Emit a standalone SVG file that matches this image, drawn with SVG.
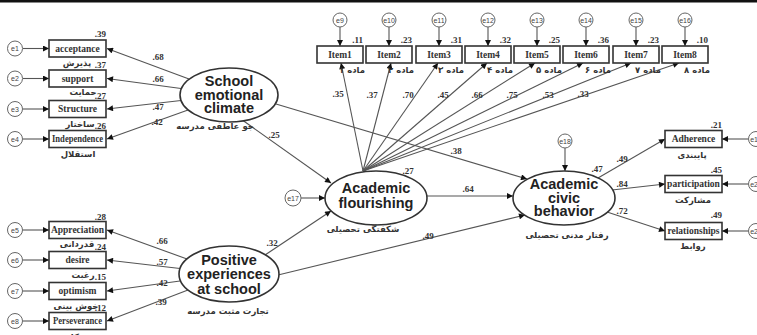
<svg xmlns="http://www.w3.org/2000/svg" width="757" height="335" viewBox="0 0 757 335">
<defs>
<marker id="ah" viewBox="0 0 10 10" refX="10" refY="5" markerWidth="7" markerHeight="6" markerUnits="userSpaceOnUse" orient="auto"><path d="M0,0 L10,5 L0,10 z" fill="#111"/></marker>
<style>
.box{fill:#fff;stroke:#333;stroke-width:1.6}
.lat{fill:#fff;stroke:#333;stroke-width:1.6}
.err{fill:#fff;stroke:#666;stroke-width:1}
.et{font-family:"Liberation Sans",Arial,sans-serif;font-size:7px;fill:#444;text-anchor:middle}
.bt{font-family:"Liberation Serif","Times New Roman",serif;font-weight:bold;font-size:9.5px;fill:#333;text-anchor:middle}
.v{font-family:"Liberation Serif","Times New Roman",serif;font-weight:bold;font-size:9px;fill:#333}
.vr{text-anchor:end}
.vm{text-anchor:middle}
.fa{font-family:"DejaVu Sans","Noto Sans",sans-serif;font-weight:bold;font-size:8.5px;fill:#333;text-anchor:middle}
.lt{font-family:"Liberation Sans",Arial,sans-serif;font-weight:bold;font-size:14.5px;fill:#222;text-anchor:middle}
.c line{stroke:#555;stroke-width:1.1;marker-end:url(#ah)}
</style>
</defs>
<rect x="0" y="0" width="757" height="2.5" fill="#111"/>

<g class="c" id="connectors">
<line x1="23" y1="48.5" x2="49" y2="48.5"/>
<line x1="23" y1="78.5" x2="49" y2="78.5"/>
<line x1="23" y1="109" x2="49" y2="109"/>
<line x1="23" y1="139" x2="49" y2="139"/>
<line x1="23" y1="230" x2="49" y2="230"/>
<line x1="23" y1="260" x2="49" y2="260"/>
<line x1="23" y1="291" x2="49" y2="291"/>
<line x1="23" y1="321" x2="49" y2="321"/>
<line x1="189" y1="79" x2="107" y2="48.5"/>
<line x1="181" y1="88.5" x2="107" y2="78.5"/>
<line x1="181" y1="100.5" x2="107" y2="109"/>
<line x1="188" y1="110" x2="107" y2="139"/>
<line x1="187" y1="259" x2="107" y2="230"/>
<line x1="180" y1="268.5" x2="107" y2="260"/>
<line x1="180" y1="281" x2="107" y2="291"/>
<line x1="188" y1="290" x2="107" y2="321"/>
<line x1="243" y1="120.5" x2="331" y2="183"/>
<line x1="276" y1="104" x2="527" y2="179"/>
<line x1="265" y1="255" x2="331" y2="211"/>
<line x1="278" y1="275" x2="525" y2="215"/>
<line x1="427" y1="196" x2="513" y2="196"/>
<line x1="301" y1="198" x2="325" y2="198"/>
<line x1="565" y1="148" x2="565" y2="171"/>
<line x1="598" y1="178" x2="665" y2="139"/>
<line x1="612" y1="190" x2="665" y2="184"/>
<line x1="607" y1="212" x2="665" y2="231"/>
<line x1="748" y1="139" x2="722" y2="139"/>
<line x1="748" y1="184" x2="722" y2="184"/>
<line x1="748" y1="231" x2="722" y2="231"/>
<line x1="363" y1="171" x2="341" y2="63"/>
<line x1="363" y1="171" x2="391" y2="63"/>
<line x1="363" y1="171" x2="438" y2="63"/>
<line x1="363" y1="171" x2="487" y2="63"/>
<line x1="363" y1="171" x2="535" y2="63"/>
<line x1="363" y1="171" x2="583" y2="63"/>
<line x1="363" y1="171" x2="631" y2="63"/>
<line x1="363" y1="171" x2="679" y2="63"/>
<line x1="340" y1="27" x2="340" y2="46"/>
<line x1="389" y1="27" x2="389" y2="46"/>
<line x1="439" y1="27" x2="439" y2="46"/>
<line x1="488" y1="27" x2="488" y2="46"/>
<line x1="537" y1="27" x2="537" y2="46"/>
<line x1="586" y1="27" x2="586" y2="46"/>
<line x1="636" y1="27" x2="636" y2="46"/>
<line x1="685" y1="27" x2="685" y2="46"/>
</g>

<g id="coefficients">
<text class="v vm" x="158" y="60">.68</text>
<text class="v vm" x="158" y="82">.66</text>
<text class="v vm" x="158" y="110">.47</text>
<text class="v vm" x="157" y="125">.42</text>
<text class="v vm" x="162" y="244">.66</text>
<text class="v vm" x="162" y="265">.57</text>
<text class="v vm" x="162" y="286">.42</text>
<text class="v vm" x="161" y="305">.39</text>
<text class="v vm" x="274" y="138">.25</text>
<text class="v vm" x="456" y="154">.38</text>
<text class="v vm" x="468" y="192">.64</text>
<text class="v vm" x="272" y="246">.32</text>
<text class="v vm" x="428" y="239">.49</text>
<text class="v vm" x="622" y="162">.49</text>
<text class="v vm" x="622" y="187">.84</text>
<text class="v vm" x="622" y="214">.72</text>
<text class="v vm" x="338" y="97">.35</text>
<text class="v vm" x="372" y="98">.37</text>
<text class="v vm" x="408" y="98">.70</text>
<text class="v vm" x="443" y="98">.45</text>
<text class="v vm" x="477" y="98">.66</text>
<text class="v vm" x="512" y="98">.75</text>
<text class="v vm" x="548" y="98">.53</text>
<text class="v vm" x="583" y="97">.33</text>
</g>

<g id="e1"><circle class="err" cx="15" cy="48.5" r="7.5"/><text class="et" x="15" y="51">e1</text></g>
<g id="e2"><circle class="err" cx="15" cy="78.5" r="7.5"/><text class="et" x="15" y="81">e2</text></g>
<g id="e3"><circle class="err" cx="15" cy="109" r="7.5"/><text class="et" x="15" y="111.5">e3</text></g>
<g id="e4"><circle class="err" cx="15" cy="139" r="7.5"/><text class="et" x="15" y="141.5">e4</text></g>
<g id="e5"><circle class="err" cx="15" cy="230" r="7.5"/><text class="et" x="15" y="232.5">e5</text></g>
<g id="e6"><circle class="err" cx="15" cy="260" r="7.5"/><text class="et" x="15" y="262.5">e6</text></g>
<g id="e7"><circle class="err" cx="15" cy="291" r="7.5"/><text class="et" x="15" y="293.5">e7</text></g>
<g id="e8"><circle class="err" cx="15" cy="321" r="7.5"/><text class="et" x="15" y="323.5">e8</text></g>

<g id="acceptance"><rect class="box" x="49" y="40" width="57" height="17"/><text class="bt" x="77.5" y="51.5">acceptance</text><text class="v vr" x="106" y="37">.39</text><text class="fa" x="77" y="66">پذیرش</text></g>
<g id="support"><rect class="box" x="49" y="70" width="57" height="17"/><text class="bt" x="77.5" y="81.5">support</text><text class="v vr" x="106" y="68">.37</text><text class="fa" x="83" y="95">حمایت</text></g>
<g id="structure"><rect class="box" x="49" y="100.5" width="57" height="17"/><text class="bt" x="77.5" y="112">Structure</text><text class="v vr" x="106" y="99">.27</text><text class="fa" x="80" y="127">ساختار</text></g>
<g id="independence"><rect class="box" x="49" y="130.5" width="57" height="17"/><text class="bt" x="77.5" y="142" textLength="51" lengthAdjust="spacingAndGlyphs">Independence</text><text class="v vr" x="106" y="129">.26</text><text class="fa" x="78" y="157">استقلال</text></g>

<g id="appreciation"><rect class="box" x="49" y="221.5" width="57" height="17"/><text class="bt" x="77.5" y="233">Appreciation</text><text class="v vr" x="106" y="220">.28</text><text class="fa" x="77" y="247">قدردانی</text></g>
<g id="desire"><rect class="box" x="49" y="251.5" width="57" height="17"/><text class="bt" x="77.5" y="263">desire</text><text class="v vr" x="106" y="250">.24</text><text class="fa" x="83" y="278">رغبت</text></g>
<g id="optimism"><rect class="box" x="49" y="282.5" width="57" height="17"/><text class="bt" x="77.5" y="294">optimism</text><text class="v vr" x="106" y="280">.15</text><text class="fa" x="76" y="309">خوش بینی</text></g>
<g id="perseverance"><rect class="box" x="49" y="312.5" width="57" height="17"/><text class="bt" x="77.5" y="324" textLength="49" lengthAdjust="spacingAndGlyphs">Perseverance</text><text class="v vr" x="106" y="311">.12</text><text class="fa" x="80" y="340">پشتکار</text></g>

<g id="sec"><ellipse class="lat" cx="229" cy="95" rx="49" ry="27"/><text class="lt" x="229" y="86">School</text><text class="lt" x="229" y="99.5">emotional</text><text class="lt" x="229" y="113">climate</text><text class="fa" x="215" y="129">جو عاطفی مدرسه</text></g>
<g id="pes"><ellipse class="lat" cx="229" cy="274" rx="50" ry="28"/><text class="lt" x="229" y="265">Positive</text><text class="lt" x="229" y="279">experiences</text><text class="lt" x="229" y="294">at school</text><text class="fa" x="228" y="314">تجارت مثبت مدرسه</text></g>
<g id="af"><ellipse class="lat" cx="376" cy="198" rx="51" ry="27"/><text class="lt" x="376" y="193">Academic</text><text class="lt" x="376" y="208">flourishing</text><text class="v vm" x="408" y="174">.27</text><text class="fa" x="363" y="232">شکفتگی تحصیلی</text></g>
<g id="acb"><ellipse class="lat" cx="564" cy="198" rx="51" ry="27"/><text class="lt" x="564" y="189">Academic</text><text class="lt" x="564" y="203">civic</text><text class="lt" x="564" y="216">behavior</text><text class="v vm" x="597" y="172">.47</text><text class="fa" x="567" y="238">رفتار مدنی تحصیلی</text></g>
<g id="e17"><circle class="err" cx="293" cy="198" r="8"/><text class="et" x="293" y="200.5">e17</text></g>
<g id="e18"><circle class="err" cx="565" cy="141" r="7"/><text class="et" x="565" y="143.5">e18</text></g>

<g id="items">
<g id="item1"><circle class="err" cx="340" cy="20" r="7"/><text class="et" x="340" y="22.5">e9</text><rect class="box" x="317" y="46" width="46" height="17"/><text class="bt" x="340" y="57.5">Item1</text><text class="v vr" x="363" y="43">.11</text><text class="fa" x="352" y="73">ماده ۱</text></g>
<g id="item2"><circle class="err" cx="389" cy="20" r="7"/><text class="et" x="389" y="22.5">e10</text><rect class="box" x="366" y="46" width="46" height="17"/><text class="bt" x="389" y="57.5">Item2</text><text class="v vr" x="412" y="43">.23</text><text class="fa" x="401" y="73">ماده ۲</text></g>
<g id="item3"><circle class="err" cx="439" cy="20" r="7"/><text class="et" x="439" y="22.5">e11</text><rect class="box" x="416" y="46" width="46" height="17"/><text class="bt" x="439" y="57.5">Item3</text><text class="v vr" x="462" y="43">.31</text><text class="fa" x="451" y="73">ماده ۳</text></g>
<g id="item4"><circle class="err" cx="488" cy="20" r="7"/><text class="et" x="488" y="22.5">e12</text><rect class="box" x="465" y="46" width="46" height="17"/><text class="bt" x="488" y="57.5">Item4</text><text class="v vr" x="511" y="43">.32</text><text class="fa" x="500" y="73">ماده ۴</text></g>
<g id="item5"><circle class="err" cx="537" cy="20" r="7"/><text class="et" x="537" y="22.5">e13</text><rect class="box" x="514" y="46" width="46" height="17"/><text class="bt" x="537" y="57.5">Item5</text><text class="v vr" x="560" y="43">.25</text><text class="fa" x="549" y="73">ماده ۵</text></g>
<g id="item6"><circle class="err" cx="586" cy="20" r="7"/><text class="et" x="586" y="22.5">e14</text><rect class="box" x="563" y="46" width="46" height="17"/><text class="bt" x="586" y="57.5">Item6</text><text class="v vr" x="609" y="43">.36</text><text class="fa" x="598" y="73">ماده ۶</text></g>
<g id="item7"><circle class="err" cx="636" cy="20" r="7"/><text class="et" x="636" y="22.5">e15</text><rect class="box" x="613" y="46" width="46" height="17"/><text class="bt" x="636" y="57.5">Item7</text><text class="v vr" x="659" y="43">.23</text><text class="fa" x="648" y="73">ماده ۷</text></g>
<g id="item8"><circle class="err" cx="685" cy="20" r="7"/><text class="et" x="685" y="22.5">e16</text><rect class="box" x="662" y="46" width="46" height="17"/><text class="bt" x="685" y="57.5">Item8</text><text class="v vr" x="708" y="43">.10</text><text class="fa" x="697" y="73">ماده ۸</text></g>
</g>

<g id="adherence"><rect class="box" x="665" y="130.5" width="57" height="17"/><text class="bt" x="693.5" y="142">Adherence</text><text class="v vr" x="722" y="128">.21</text><text class="fa" x="692" y="158">پایبندی</text></g>
<g id="participation"><rect class="box" x="665" y="175.5" width="57" height="17"/><text class="bt" x="693.5" y="187">participation</text><text class="v vr" x="722" y="173">.45</text><text class="fa" x="693" y="203">مشارکت</text></g>
<g id="relationships"><rect class="box" x="665" y="222.5" width="57" height="17"/><text class="bt" x="693.5" y="234">relationships</text><text class="v vr" x="722" y="218">.49</text><text class="fa" x="693" y="249">روابط</text></g>
<g id="e19"><circle class="err" cx="756" cy="139" r="7.5"/><text class="et" x="756" y="141.5">e19</text></g>
<g id="e20"><circle class="err" cx="756" cy="184" r="7.5"/><text class="et" x="756" y="186.5">e20</text></g>
<g id="e21"><circle class="err" cx="756" cy="231" r="7.5"/><text class="et" x="756" y="233.5">e21</text></g>
</svg>
